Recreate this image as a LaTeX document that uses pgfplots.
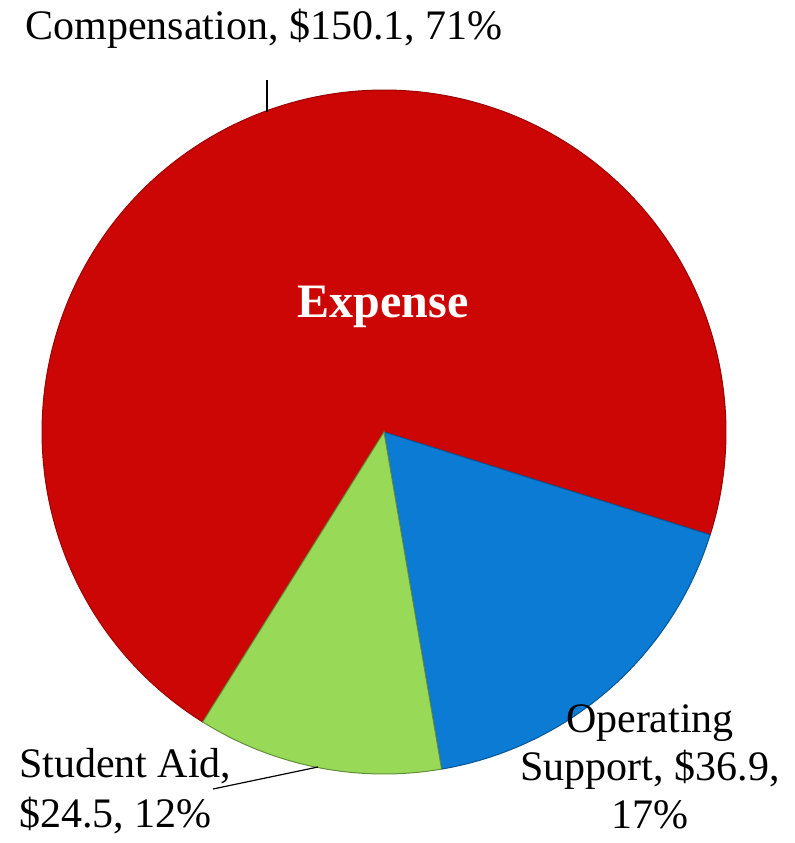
\documentclass[border=0pt]{standalone}
\usepackage{fontspec}
\setmainfont{Liberation Serif}
\usepackage{pgfplots}
\usepackage{pgfplotstable}
\pgfplotsset{compat=1.18}
\definecolor{compred}{HTML}{CC0505}
\definecolor{opblue}{HTML}{0B7BD4}
\definecolor{aidgreen}{HTML}{98DA58}

\pgfplotstableread{
name value
Operating 36.9
Aid 24.5
Compensation 150.1
}\expdata
\pgfplotstablegetelem{0}{value}\of\expdata \let\vOp\pgfplotsretval
\pgfplotstablegetelem{1}{value}\of\expdata \let\vAid\pgfplotsretval
\pgfplotstablegetelem{2}{value}\of\expdata \let\vComp\pgfplotsretval
\pgfmathsetmacro\total{\vOp+\vAid+\vComp}
\pgfmathsetmacro\aA{-17.5}
\pgfmathsetmacro\aB{\aA-360*(\vOp/\total)}
\pgfmathsetmacro\aC{\aB-360*(\vAid/\total)}
\pgfmathsetmacro\aD{\aC-360*(\vComp/\total)}

\begin{document}
\begin{tikzpicture}
\begin{axis}[
  width=397.5pt, height=421.5pt, scale only axis,
  xmin=0, xmax=795, ymin=0, ymax=843,
  hide axis, clip=false]
\addplot[fill=compred, draw=compred!75!black, line width=0.5pt, domain=\aD:\aC, samples=200]
  ({384+342*cos(x)},{411+342*sin(x)}) -- (axis cs:384,411) -- cycle;
\addplot[fill=opblue, draw=opblue!70!black, line width=0.5pt, domain=\aB:\aA, samples=60]
  ({384+342*cos(x)},{411+342*sin(x)}) -- (axis cs:384,411) -- cycle;
\addplot[fill=aidgreen, draw=aidgreen!65!black, line width=0.5pt, domain=\aC:\aB, samples=50]
  ({384+342*cos(x)},{411+342*sin(x)}) -- (axis cs:384,411) -- cycle;
\draw[line width=0.6pt] (axis cs:267,763) -- (axis cs:267,731);
\draw[line width=0.6pt] (axis cs:213,54) -- (axis cs:318,76);
\node[font=\fontsize{21}{26}\selectfont] at (axis cs:264,814) {Compensation, \$150.1, 71\%};
\node[font=\fontsize{21}{25}\selectfont, anchor=west, align=left] at (axis cs:12,52) {Student Aid,\\\$24.5, 12\%};
\node[font=\fontsize{21}{24}\selectfont, align=center, inner sep=0pt] at (axis cs:650,76) {Operating\\Support, \$36.9,\\17\%};
\node[font=\bfseries\fontsize{24}{28}\selectfont, text=white] at (axis cs:383,536) {Expense};
\end{axis}
\pgfresetboundingbox
\path (current axis.south west) rectangle (current axis.north east);
\end{tikzpicture}
\end{document}
